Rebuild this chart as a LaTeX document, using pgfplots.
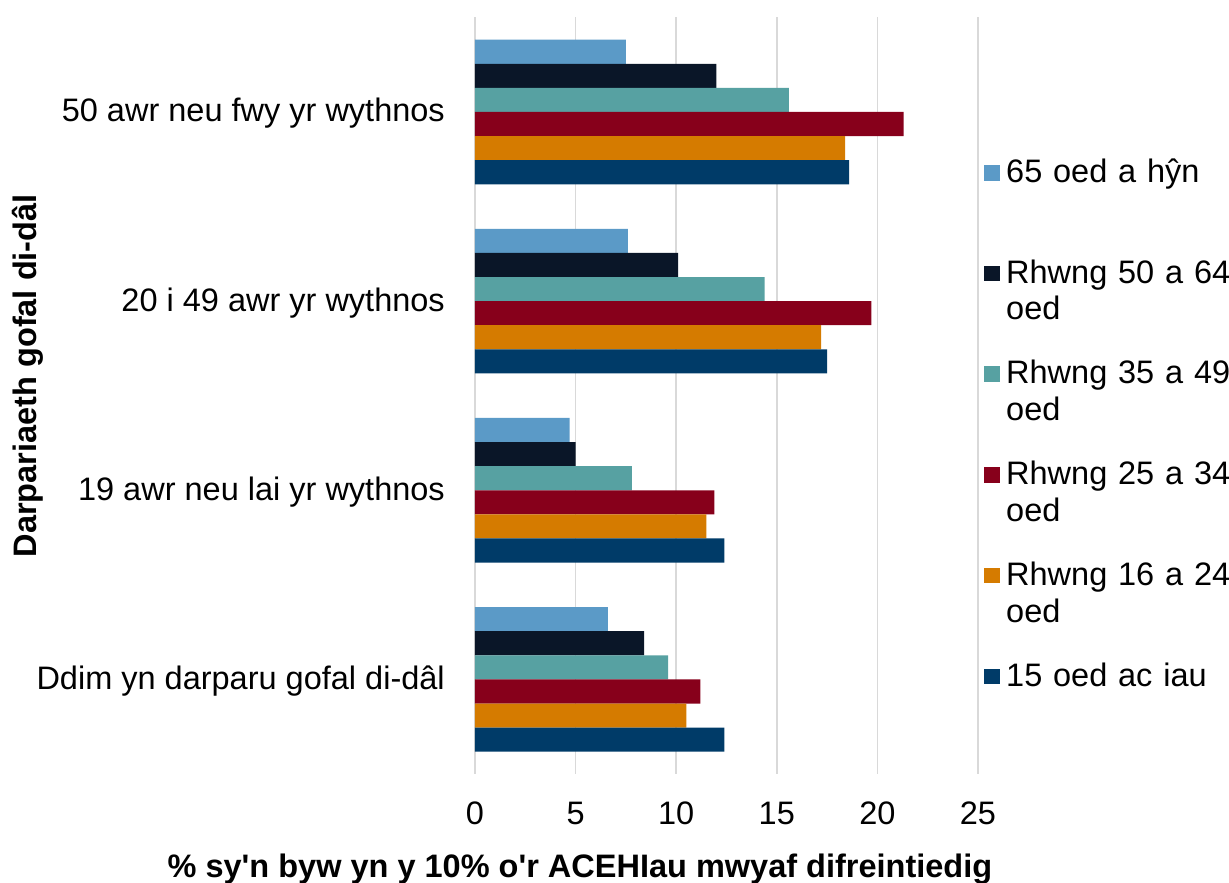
\documentclass[border=0pt]{standalone}
\usepackage{pgfplots}
\pgfplotsset{compat=1.18}
\usepackage{fontspec}
\setmainfont{Liberation Sans}[Ligatures=TeXOff]
\definecolor{cA}{HTML}{5B9AC7}
\definecolor{cB}{HTML}{0A1628}
\definecolor{cC}{HTML}{57A1A2}
\definecolor{cD}{HTML}{87001B}
\definecolor{cE}{HTML}{D57B00}
\definecolor{cF}{HTML}{003B68}
\newcommand{\bigf}{\fontsize{32.5}{36.7}\selectfont}
\begin{document}
\begin{tikzpicture}
\useasboundingbox (-475pt,-109pt) rectangle (754pt,774pt);
\begin{axis}[
  at={(0pt,0pt)}, anchor=south west,
  scale only axis, width=503pt, height=756.6pt,
  xmin=0, xmax=25, ymin=-0.5, ymax=3.5,
  xbar, bar width=0.1274,
  xtick={0,5,10,15,20,25},
  ytick={0,1,2,3},
  yticklabels={Ddim yn darparu gofal di-dâl, 19 awr neu lai yr wythnos, 20 i 49 awr yr wythnos, 50 awr neu fwy yr wythnos},
  xmajorgrids, ymajorgrids=false,
  major grid style={draw=black!15, line width=1.5pt},
  axis line style={draw=none},
  major tick length=0pt,
  tick label style={font=\bigf},
  /pgf/number format/assume math mode=true,
  xticklabel style={anchor=base, yshift=-50pt, inner sep=0pt},
  yticklabel style={anchor=base east, xshift=-30pt, yshift=-10pt, inner sep=0pt},
  xlabel={\% sy'n byw yn y 10\% o'r ACEHIau mwyaf difreintiedig},
  xlabel style={font=\bigf\bfseries, at={(axis description cs:0.2087,0)}, anchor=base, yshift=-103pt, inner sep=0pt},
  ylabel={Darpariaeth gofal di-dâl},
  ylabel style={font=\bigf\bfseries, at={(axis description cs:-0.8708,0.5264)}, anchor=base, inner sep=0pt},
  legend style={at={(axis description cs:1.0119,0.815)}, anchor=north west, draw=none, fill=none, inner sep=0pt, row sep=0pt, column sep=6pt, font=\bigf,
    cells={anchor=base west},
    nodes={anchor=base west, text width=225pt, text height=25pt, text depth=75.7pt, align=left, inner sep=0pt}},
  legend image code/.code={\fill[#1,draw=none] (0pt,2pt) rectangle (16pt,17.5pt);},
]
\addplot[fill=cA, draw=none, bar shift=0.3185] coordinates {(6.6,0) (4.7,1) (7.6,2) (7.5,3)};
\addlegendentry{65 oed a hŷn}
\addplot[fill=cB, draw=none, bar shift=0.1911] coordinates {(8.4,0) (5.0,1) (10.1,2) (12.0,3)};
\addlegendentry{Rhwng 50 a 64\\oed}
\addplot[fill=cC, draw=none, bar shift=0.0637] coordinates {(9.6,0) (7.8,1) (14.4,2) (15.6,3)};
\addlegendentry{Rhwng 35 a 49\\oed}
\addplot[fill=cD, draw=none, bar shift=-0.0637] coordinates {(11.2,0) (11.9,1) (19.7,2) (21.3,3)};
\addlegendentry{Rhwng 25 a 34\\oed}
\addplot[fill=cE, draw=none, bar shift=-0.1911] coordinates {(10.5,0) (11.5,1) (17.2,2) (18.4,3)};
\addlegendentry{Rhwng 16 a 24\\oed}
\addplot[fill=cF, draw=none, bar shift=-0.3185] coordinates {(12.4,0) (12.4,1) (17.5,2) (18.6,3)};
\addlegendentry{15 oed ac iau}
\end{axis}
\end{tikzpicture}
\end{document}
